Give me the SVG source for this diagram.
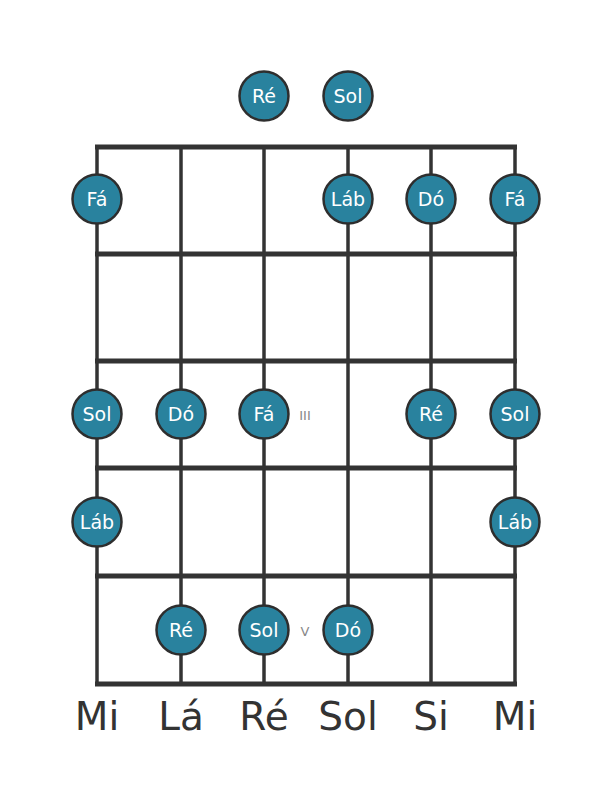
<svg xmlns="http://www.w3.org/2000/svg" width="611" height="801" viewBox="0 0 611 801">
<style>
.fret{stroke:#333;stroke-width:5;fill:none}
.str{stroke:#333;stroke-width:3.5;fill:none}
.dot circle{fill:#29829e;stroke:#2e2e2e;stroke-width:2.5}
.dot text{fill:#fff;font-family:"DejaVu Sans",sans-serif;font-size:19px;text-anchor:middle;dominant-baseline:central}
.pos{fill:#888;font-family:"DejaVu Sans",sans-serif;font-size:13px;text-anchor:middle;dominant-baseline:central}
.lbl{fill:#333;font-family:"DejaVu Sans",sans-serif;font-size:39px;text-anchor:middle}
</style>
<rect width="611" height="801" fill="#fff"/>
<g id="grid">
<line class="str" x1="97" y1="146" x2="97" y2="684"/>
<line class="str" x1="181" y1="146" x2="181" y2="684"/>
<line class="str" x1="264" y1="146" x2="264" y2="684"/>
<line class="str" x1="348" y1="146" x2="348" y2="684"/>
<line class="str" x1="431" y1="146" x2="431" y2="684"/>
<line class="str" x1="515" y1="146" x2="515" y2="684"/>
<line class="fret" x1="95" y1="147" x2="517" y2="147"/>
<line class="fret" x1="95" y1="254" x2="517" y2="254"/>
<line class="fret" x1="95" y1="361" x2="517" y2="361"/>
<line class="fret" x1="95" y1="468" x2="517" y2="468"/>
<line class="fret" x1="95" y1="576" x2="517" y2="576"/>
<line class="fret" x1="95" y1="684" x2="517" y2="684"/>
</g>
<g id="n-re-open" class="dot"><circle cx="264" cy="96" r="24.5"/><text x="264" y="96">Ré</text></g>
<g id="n-sol-open" class="dot"><circle cx="348" cy="96" r="24.5"/><text x="348" y="96">Sol</text></g>
<g id="n-fa-1-6" class="dot"><circle cx="97" cy="199" r="24.5"/><text x="97" y="199">Fá</text></g>
<g id="n-lab-1-3" class="dot"><circle cx="348" cy="199" r="24.5"/><text x="348" y="199">Láb</text></g>
<g id="n-do-1-2" class="dot"><circle cx="431" cy="199" r="24.5"/><text x="431" y="199">Dó</text></g>
<g id="n-fa-1-1" class="dot"><circle cx="515" cy="199" r="24.5"/><text x="515" y="199">Fá</text></g>
<g id="n-sol-3-6" class="dot"><circle cx="97" cy="414" r="24.5"/><text x="97" y="414">Sol</text></g>
<g id="n-do-3-5" class="dot"><circle cx="181" cy="414" r="24.5"/><text x="181" y="414">Dó</text></g>
<g id="n-fa-3-4" class="dot"><circle cx="264" cy="414" r="24.5"/><text x="264" y="414">Fá</text></g>
<g id="n-re-3-2" class="dot"><circle cx="431" cy="414" r="24.5"/><text x="431" y="414">Ré</text></g>
<g id="n-sol-3-1" class="dot"><circle cx="515" cy="414" r="24.5"/><text x="515" y="414">Sol</text></g>
<g id="n-lab-4-6" class="dot"><circle cx="97" cy="522" r="24.5"/><text x="97" y="522">Láb</text></g>
<g id="n-lab-4-1" class="dot"><circle cx="515" cy="522" r="24.5"/><text x="515" y="522">Láb</text></g>
<g id="n-re-5-5" class="dot"><circle cx="181" cy="630" r="24.5"/><text x="181" y="630">Ré</text></g>
<g id="n-sol-5-4" class="dot"><circle cx="264" cy="630" r="24.5"/><text x="264" y="630">Sol</text></g>
<g id="n-do-5-3" class="dot"><circle cx="348" cy="630" r="24.5"/><text x="348" y="630">Dó</text></g>
<g id="fret-markers">
<text class="pos" x="305" y="415">III</text>
<text class="pos" x="305" y="631">V</text>
</g>
<g id="string-labels">
<text class="lbl" x="97" y="730">Mi</text>
<text class="lbl" x="181" y="730">Lá</text>
<text class="lbl" x="264" y="730">Ré</text>
<text class="lbl" x="348" y="730">Sol</text>
<text class="lbl" x="431" y="730">Si</text>
<text class="lbl" x="515" y="730">Mi</text>
</g>
<g id="connectors"></g>
</svg>
